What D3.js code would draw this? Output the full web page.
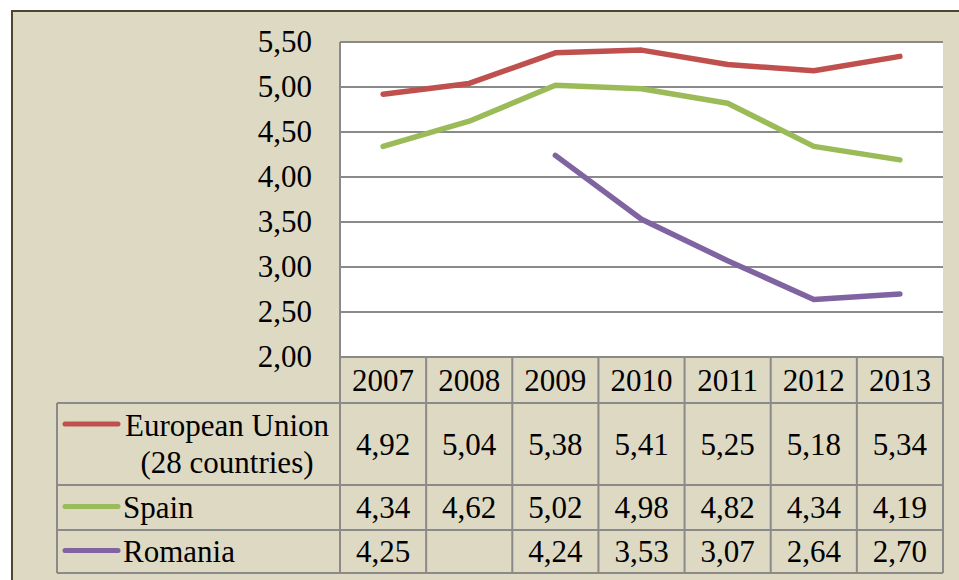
<html>
<head>
<script src="https://d3js.org/d3.v7.min.js"></script>
<style>
  body { margin: 0; background: #fff; }
</style>
</head>
<body>
<svg width="959" height="580" id="chart"></svg>
<script>
// data
var years = ["2007", "2008", "2009", "2010", "2011", "2012", "2013"];
var euValues = [4.92, 5.04, 5.38, 5.41, 5.25, 5.18, 5.34];
var spainValues = [4.34, 4.62, 5.02, 4.98, 4.82, 4.34, 4.19];
var romaniaValues = [4.25, null, 4.24, 3.53, 3.07, 2.64, 2.70];
var seriesNames = [["European Union", "(28 countries)"], ["Spain"], ["Romania"]];
var seriesColors = ["#c0504d", "#9bbb59", "#8064a2"];
var yTicks = [2.0, 2.5, 3.0, 3.5, 4.0, 4.5, 5.0, 5.5];

var series = [euValues, spainValues, romaniaValues];

var svg = d3.select("#chart").style("font-family", "'Liberation Serif'");
var gridColor = "#8a8a8a";
var fontSize = 31;
var serif = "'Liberation Serif'";

// outer frame
svg.append("rect")
  .attr("x", 12).attr("y", 11)
  .attr("width", 980).attr("height", 600)
  .attr("fill", "#ddd9c3")
  .attr("stroke", "#4f4630")
  .attr("stroke-width", 2);

var plotLeft = 340, plotRight = 943, plotTop = 42, plotBottom = 357;
var x = d3.scaleBand().domain(years).range([plotLeft, plotRight]);
var y = d3.scaleLinear().domain([2, 5.5]).range([plotBottom, plotTop]);

// plot area
svg.append("rect")
  .attr("x", plotLeft).attr("y", plotTop)
  .attr("width", plotRight - plotLeft).attr("height", plotBottom - plotTop)
  .attr("fill", "#fff");

svg.append("g").selectAll("line")
  .data(yTicks)
  .join("line")
  .attr("x1", plotLeft).attr("x2", plotRight)
  .attr("y1", d => y(d)).attr("y2", d => y(d))
  .attr("stroke", gridColor).attr("stroke-width", 2);

svg.append("line")
  .attr("x1", plotLeft).attr("x2", plotLeft)
  .attr("y1", plotTop).attr("y2", plotBottom)
  .attr("stroke", gridColor).attr("stroke-width", 2);

var fmt = d => d3.format(".2f")(d).replace(".", ",");

svg.append("g").selectAll("text")
  .data(yTicks)
  .join("text")
  .attr("x", 312)
  .attr("y", d => y(d))
  .attr("dy", "0.33em")
  .attr("text-anchor", "end")
  .attr("font-size", fontSize)
  .style("font-family", serif)
  .text(fmt);

// lines - skip lone points so nothing shows where a neighbour is missing
var line = d3.line()
  .defined((d, i, arr) => d != null && ((i > 0 && arr[i - 1] != null) || (i < arr.length - 1 && arr[i + 1] != null)))
  .x((d, i) => x(years[i]) + x.bandwidth() / 2)
  .y(d => y(d));

svg.append("g").selectAll("path")
  .data(series)
  .join("path")
  .attr("d", d => line(d))
  .attr("fill", "none")
  .attr("stroke", (d, i) => seriesColors[i])
  .attr("stroke-width", 5.5)
  .attr("stroke-linejoin", "round")
  .attr("stroke-linecap", "round");

// data table
var rowTops = [357, 403, 485, 530, 573];
var tableLeft = 57;
var t = svg.append("g");

// header row
t.selectAll("text.year")
  .data(years)
  .join("text")
  .attr("class", "year")
  .attr("x", d => x(d) + x.bandwidth() / 2)
  .attr("y", (rowTops[0] + rowTops[1]) / 2)
  .attr("dy", "0.35em")
  .attr("text-anchor", "middle")
  .attr("font-size", fontSize)
  .style("font-family", serif)
  .text(d => d);

// horizontal table lines
t.selectAll("line.h")
  .data(rowTops)
  .join("line")
  .attr("class", "h")
  .attr("x1", (d, i) => i === 0 ? plotLeft : tableLeft)
  .attr("x2", plotRight)
  .attr("y1", d => d).attr("y2", d => d)
  .attr("stroke", gridColor).attr("stroke-width", 2);

// vertical table lines
var colEdges = years.map(d => x(d)).concat([plotRight]);
t.selectAll("line.v")
  .data(colEdges)
  .join("line")
  .attr("class", "v")
  .attr("x1", d => d).attr("x2", d => d)
  .attr("y1", rowTops[0]).attr("y2", rowTops[4])
  .attr("stroke", gridColor).attr("stroke-width", 2);

t.append("line")
  .attr("x1", tableLeft).attr("x2", tableLeft)
  .attr("y1", rowTops[1]).attr("y2", rowTops[4])
  .attr("stroke", gridColor).attr("stroke-width", 2);

// rows
series.forEach(function(vals, s) {
  var r0 = rowTops[s + 1], r1 = rowTops[s + 2];
  var mid = (r0 + r1) / 2;
  var row = t.append("g");
  row.selectAll("text")
    .data(vals)
    .join("text")
    .attr("x", (d, i) => x(years[i]) + x.bandwidth() / 2)
    .attr("y", mid)
    .attr("dy", "0.35em")
    .attr("text-anchor", "middle")
    .attr("font-size", fontSize)
    .style("font-family", serif)
    .text(d => d == null ? "" : fmt(d));

  var names = seriesNames[s];
  var firstY = names.length > 1 ? mid - 19 : mid;
  row.append("line")
    .attr("x1", 65).attr("x2", 118)
    .attr("y1", firstY - 1).attr("y2", firstY - 1)
    .attr("stroke", seriesColors[s])
    .attr("stroke-width", 5)
    .attr("stroke-linecap", "round");

  if (names.length > 1) {
    row.selectAll("text.name")
      .data(names)
      .join("text")
      .attr("class", "name")
      .attr("x", 227)
      .attr("y", (d, i) => firstY + i * 37)
      .attr("dy", "0.35em")
      .attr("text-anchor", "middle")
      .attr("font-size", fontSize)
      .style("font-family", serif)
      .text(d => d);
  } else {
    row.append("text")
      .attr("x", 123)
      .attr("y", mid)
      .attr("dy", "0.35em")
      .attr("font-size", fontSize)
      .style("font-family", serif)
      .text(names[0]);
  }
});
</script>
</body>
</html>
